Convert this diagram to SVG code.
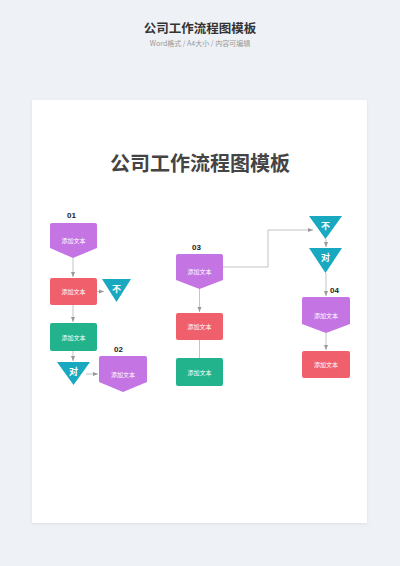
<svg xmlns="http://www.w3.org/2000/svg" width="400" height="566" viewBox="0 0 400 566">
<defs>
<marker id="ah" markerWidth="6" markerHeight="6" refX="5" refY="3" orient="auto" markerUnits="userSpaceOnUse">
<path d="M0,1 L5,3 L0,5 z" fill="#999"/>
</marker>
<filter id="sh" x="-5%" y="-5%" width="110%" height="110%"><feDropShadow dx="0" dy="1" stdDeviation="1.5" flood-color="#000" flood-opacity="0.08"/></filter>
</defs>
<style>
.hdr{font-family:"Noto Sans CJK SC","Noto Sans",sans-serif;text-anchor:middle}
.t{font-family:"Noto Sans CJK SC",sans-serif;font-size:6px;fill:#fff;text-anchor:middle;dominant-baseline:central}
.tri{font-family:"Noto Sans CJK SC",sans-serif;font-size:9px;font-weight:bold;fill:#fff;text-anchor:middle;dominant-baseline:central}
.num{font-family:"Liberation Sans",Arial,sans-serif;font-size:8px;font-weight:bold;fill:#222}
.purple{fill:#c574e4}
.red{fill:#f0606c}
.green{fill:#22b38c}
.teal{fill:#18a9c1}
.c{fill:none;stroke:#aaa;stroke-width:0.7;marker-end:url(#ah)}
.cl{fill:none;stroke:#aaa;stroke-width:0.7}
</style>
<rect width="400" height="566" fill="#eef1f5"/>
<text class="hdr" x="200" y="32.5" font-size="12.5" font-weight="bold" fill="#333">公司工作流程图模板</text>
<text class="hdr" x="200" y="45.5" font-size="7" fill="#999">Word格式 / A4大小 / 内容可编辑</text>
<rect x="32" y="100" width="335" height="423" fill="#fff" filter="url(#sh)"/>
<text class="hdr" x="200" y="171" font-size="20" font-weight="bold" fill="#444">公司工作流程图模板</text>

<g id="connectors">
<path class="c" d="M73,258 L73,277"/>
<path class="c" d="M97,291.5 L104,291.5"/>
<path class="c" d="M73,305 L73,322"/>
<path class="c" d="M73,351 L73,361"/>
<path class="c" d="M86,374 L98,374"/>
<path class="c" d="M199.5,289 L199.5,312"/>
<path class="cl" d="M199.5,340 L199.5,358"/>
<path class="c" d="M223,267 L268,267 L268,230 L313,230"/>
<path class="c" d="M326,239 L326,247"/>
<path class="c" d="M326,273 L326,296"/>
<path class="c" d="M326,333 L326,350"/>
</g>

<g id="n01">
<text class="num" x="67" y="218">01</text>
<path class="purple" d="M52,223 H95 Q97,223 97,225 V248 L73,258 L50,248 V225 Q50,223 52,223 Z"/>
<text class="t" x="73.5" y="240">添加文本</text>
</g>
<g id="n01r">
<rect class="red" x="50" y="278" width="47" height="27" rx="2"/>
<text class="t" x="73.5" y="291.5">添加文本</text>
</g>
<g id="nbu1">
<path class="teal" d="M102,279 H131 L116.5,302 Z"/>
<text class="tri" x="116.5" y="288">不</text>
</g>
<g id="n01g">
<rect class="green" x="50" y="323" width="47" height="28" rx="2"/>
<text class="t" x="73.5" y="337">添加文本</text>
</g>
<g id="ndui1">
<path class="teal" d="M57,362 H90 L73.5,385 Z"/>
<text class="tri" x="73.5" y="371">对</text>
</g>
<g id="n02">
<text class="num" x="114" y="352">02</text>
<path class="purple" d="M101,356 H145 Q147,356 147,358 V382 L123,392 L99,382 V358 Q99,356 101,356 Z"/>
<text class="t" x="123" y="374">添加文本</text>
</g>
<g id="n03">
<text class="num" x="192" y="250">03</text>
<path class="purple" d="M178,254 H221 Q223,254 223,256 V280 L199.5,289 L176,280 V256 Q176,254 178,254 Z"/>
<text class="t" x="199.5" y="271">添加文本</text>
</g>
<g id="n03r">
<rect class="red" x="176" y="313" width="47" height="27" rx="2"/>
<text class="t" x="199.5" y="326.5">添加文本</text>
</g>
<g id="n03g">
<rect class="green" x="176" y="358" width="47" height="28" rx="2"/>
<text class="t" x="199.5" y="372">添加文本</text>
</g>
<g id="nbu2">
<path class="teal" d="M309,216 H342 L325.5,239 Z"/>
<text class="tri" x="325.5" y="225">不</text>
</g>
<g id="ndui2">
<path class="teal" d="M309,248 H342 L325.5,273 Z"/>
<text class="tri" x="325.5" y="257">对</text>
</g>
<g id="n04">
<text class="num" x="330" y="293">04</text>
<path class="purple" d="M304,297 H348 Q350,297 350,299 V324 L326,333 L302,324 V299 Q302,297 304,297 Z"/>
<text class="t" x="326" y="315">添加文本</text>
</g>
<g id="n04r">
<rect class="red" x="302" y="351" width="48" height="27" rx="2"/>
<text class="t" x="326" y="364.5">添加文本</text>
</g>
</svg>
